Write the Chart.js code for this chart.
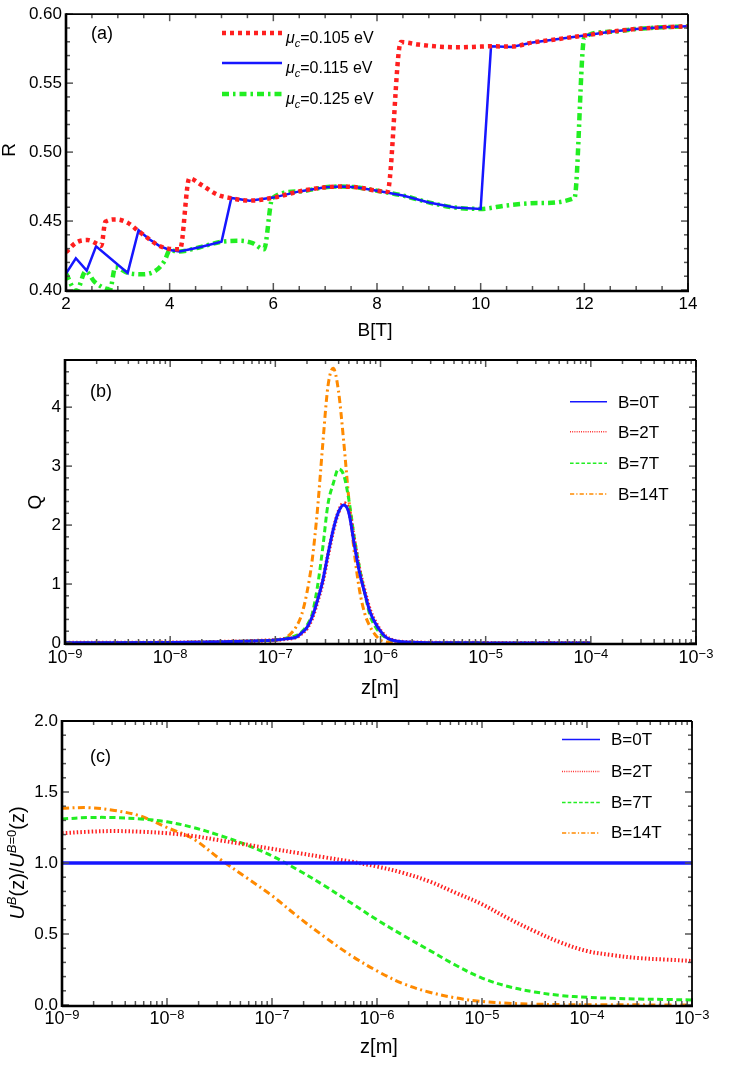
<!DOCTYPE html>
<html>
<head>
<meta charset="utf-8">
<script src="https://cdn.jsdelivr.net/npm/chart.js@4.4.1/dist/chart.umd.min.js"></script>
<style>
  body { margin: 0; background: #fff; }
  #wrap { position: relative; width: 742px; height: 1088px; }
  canvas { position: absolute; left: 0; }
</style>
</head>
<body>
<div id="wrap">
  <canvas id="ca" width="742" height="340" style="top:0px"></canvas>
  <canvas id="cb" width="742" height="360" style="top:340px"></canvas>
  <canvas id="cc" width="742" height="388" style="top:700px"></canvas>
</div>
<script>
// ---- panel (a): R against B for three chemical potentials ----
const aLabels = ['0.105', '0.115', '0.125'];
const aB105 = [2.0, 2.2, 2.42, 2.6, 2.68, 2.76, 2.97, 3.2, 3.38, 3.6, 3.8, 4.0, 4.2, 4.38, 4.6, 4.93, 5.2, 5.54, 6.0, 6.5,
               7.0, 7.3, 7.6, 8.0, 8.2, 8.46, 8.8, 9.2, 9.6, 10.0, 10.2, 10.6, 11.0, 11.5, 12.0, 12.5, 13.0, 13.5, 14.0];
const aR105 = [0.4274, 0.4345, 0.4362, 0.4335, 0.432, 0.4495, 0.4512, 0.4485, 0.4433, 0.437, 0.432, 0.4298, 0.4295, 0.481,
               0.4765, 0.469, 0.4665, 0.4648, 0.467, 0.4715, 0.4745, 0.475, 0.4745, 0.472, 0.4712, 0.5798, 0.578, 0.5765,
               0.576, 0.5765, 0.5767, 0.5765, 0.5795, 0.582, 0.5845, 0.5872, 0.5893, 0.5905, 0.5912];
const aB115 = [2.0, 2.19, 2.4, 2.58, 3.19, 3.4, 3.6, 3.8, 4.0, 4.19, 4.58, 5.0, 5.19, 5.54, 6.0, 6.5, 7.0, 7.3, 7.6, 8.0,
               8.5, 9.0, 9.5, 10.0, 10.2, 10.6, 11.0, 11.5, 12.0, 12.5, 13.0, 13.5, 14.0];
const aR115 = [0.412, 0.423, 0.414, 0.4317, 0.4124, 0.4433, 0.437, 0.432, 0.429, 0.428, 0.431, 0.435, 0.4667, 0.4648, 0.467,
               0.4715, 0.4745, 0.475, 0.4745, 0.472, 0.4685, 0.4635, 0.4598, 0.4588, 0.5767, 0.5762, 0.5795, 0.582, 0.5845,
               0.5872, 0.5893, 0.5905, 0.5912];
const aB125 = [2.0, 2.2, 2.38, 2.55, 2.85, 2.95, 3.19, 3.48, 3.74, 3.9, 4.0, 4.19, 4.58, 5.0, 5.35, 5.6, 5.82, 5.98, 6.5, 7.0,
               7.3, 7.6, 8.0, 8.5, 9.0, 9.5, 10.0, 10.5, 11.1, 11.81, 12.0, 12.5, 13.0, 13.5, 14.0];
const aR125 = [0.412, 0.399, 0.4136, 0.406, 0.4005, 0.4165, 0.4124, 0.4114, 0.4143, 0.421, 0.4286, 0.428, 0.431, 0.435, 0.4357,
               0.434, 0.4295, 0.4665, 0.4715, 0.4745, 0.475, 0.4745, 0.472, 0.4685, 0.4635, 0.4598, 0.4588, 0.4613, 0.463,
               0.4667, 0.5833, 0.5872, 0.5893, 0.5905, 0.5912];
const aXTicks = [2, 4, 6, 8, 10, 12, 14];
const aYTicks = [0.40, 0.45, 0.50, 0.55, 0.60];

// ---- panel (b): Q against z (log10 of z in metres) ----
const bLabels = ['B=0T', 'B=2T', 'B=7T', 'B=14T'];
const bLogZ = [-9, -8, -7.5, -7.2, -7.0, -6.9, -6.8, -6.75, -6.7, -6.65, -6.6, -6.55, -6.5, -6.45, -6.4, -6.35, -6.3,
               -6.25, -6.2, -6.15, -6.1, -6.05, -6.0, -5.95, -5.9, -5.8, -5.5, -5, -4];
const bQ0  = [0.003, 0.008, 0.02, 0.035, 0.05, 0.07, 0.10, 0.17, 0.26, 0.44, 0.72, 1.05, 1.5, 1.92, 2.22, 2.34, 2.2,
              1.68, 1.2, 0.85, 0.53, 0.34, 0.2, 0.1, 0.055, 0.02, 0.005, 0.002, 0.001];
const bQ2  = [0.003, 0.008, 0.02, 0.035, 0.05, 0.07, 0.10, 0.16, 0.25, 0.42, 0.70, 1.03, 1.48, 1.9, 2.22, 2.37, 2.25,
              1.74, 1.24, 0.88, 0.56, 0.36, 0.21, 0.11, 0.06, 0.02, 0.005, 0.002, 0.001];
const bQ7  = [0.003, 0.008, 0.02, 0.035, 0.05, 0.08, 0.13, 0.19, 0.3, 0.49, 0.95, 1.6, 2.35, 2.7, 2.95, 2.85, 2.42,
              1.8, 1.28, 0.85, 0.47, 0.28, 0.16, 0.09, 0.05, 0.015, 0.004, 0.002, 0.001];
const bQ14 = [0.003, 0.008, 0.02, 0.035, 0.05, 0.09, 0.28, 0.48, 0.85, 1.4, 2.25, 3.35, 4.35, 4.66, 4.28, 3.42, 2.42,
              1.55, 0.9, 0.5, 0.28, 0.14, 0.05, 0.02, 0.01, 0.005, 0.003, 0.002, 0.001];
const bYTicks = [0, 1, 2, 3, 4];

// ---- panel (c): U^B / U^(B=0) against z ----
const cLogZ = [-9, -8.75, -8.5, -8.25, -8, -7.75, -7.5, -7.25, -7, -6.75, -6.5, -6.25, -6, -5.75, -5.5, -5.25, -5,
               -4.75, -4.5, -4.25, -4, -3.75, -3.5, -3.25, -3];
const cU0  = [1, 1, 1, 1, 1, 1, 1, 1, 1, 1, 1, 1, 1, 1, 1, 1, 1, 1, 1, 1, 1, 1, 1, 1, 1];
const cU2  = [1.21, 1.22, 1.225, 1.22, 1.21, 1.19, 1.16, 1.13, 1.10, 1.07, 1.04, 1.01, 0.975, 0.93, 0.87, 0.79, 0.71,
              0.61, 0.52, 0.44, 0.38, 0.35, 0.33, 0.32, 0.31];
const cU7  = [1.31, 1.32, 1.32, 1.31, 1.29, 1.25, 1.195, 1.13, 1.05, 0.95, 0.84, 0.72, 0.6, 0.49, 0.385, 0.28, 0.19,
              0.13, 0.092, 0.067, 0.054, 0.047, 0.042, 0.039, 0.036];
const cU14 = [1.385, 1.39, 1.37, 1.33, 1.25, 1.17, 1.03, 0.9, 0.77, 0.62, 0.48, 0.35, 0.24, 0.15, 0.09, 0.05, 0.025,
              0.012, 0.006, 0.003, 0.002, 0.001, 0.001, 0, 0];
const cYTicks = [0.0, 0.5, 1.0, 1.5, 2.0];
const zExp = [-9, -8, -7, -6, -5, -4, -3];

const F = '"Liberation Sans", Arial, sans-serif';
const RED = '#ff1f1f', BLUE = '#1616ff', GREEN = '#22ee22', ORANGE = '#ff8a00';

function linMarks(min, max, minor, major) {
  const out = [];
  const n = Math.round((max - min) / minor);
  for (let i = 0; i <= n; i++) {
    const v = min + i * minor;
    out.push({ v: v, major: Math.abs(v / major - Math.round(v / major)) < 1e-6 });
  }
  return out;
}
function logMarks(exps) {
  const out = [];
  exps.forEach((e, k) => {
    const last = k === exps.length - 1 ? 1 : 9;
    for (let m = 1; m <= last; m++) out.push({ v: m * Math.pow(10, e), major: m === 1 });
  });
  return out;
}
function drawRich(ctx, pieces, x, y, center) {
  let w = 0;
  pieces.forEach(p => { ctx.font = p[1]; w += ctx.measureText(p[0]).width; });
  let cx = center ? x - w / 2 : x;
  ctx.textAlign = 'left';
  ctx.textBaseline = 'alphabetic';
  pieces.forEach(p => {
    ctx.font = p[1];
    ctx.fillText(p[0], cx, y + (p[2] || 0));
    cx += ctx.measureText(p[0]).width;
  });
}

const decoCfg = {
  ca: {
    xMarks: linMarks(2, 14, 0.5, 2), yMarks: linMarks(0.40, 0.60, 0.01, 0.05),
    legend: { x1: 222, x2: 282, tx: 286, ys: [33, 63, 94], dy: 10, lw: null,
      pieces: aLabels.map(l => [['μ', 'italic 16px ' + F], ['c', 'italic 11px ' + F, 4], ['=' + l + ' eV', '16px ' + F]]) },
    panel: ['(a)', 91, 39],
    xTitle: [[['B[T]', '19px ' + F]], 375, 336],
    yTitle: [[['R', '19px ' + F]], 15, 150]
  },
  cb: {
    xMarks: logMarks(zExp), yMarks: linMarks(0, 4.8, 0.2, 1), logLabels: 20,
    legend: { x1: 570, x2: 607, tx: 618, ys: [61.7, 91.7, 123.3, 154], dy: 6, lw: 1.5,
      pieces: bLabels.map(l => [[l, '17px ' + F]]) },
    panel: ['(b)', 90, 57],
    xTitle: [[['z[m]', '20px ' + F]], 380, 354],
    yTitle: [[['Q', '19px ' + F]], 41, 162]
  },
  cc: {
    xMarks: logMarks(zExp), yMarks: linMarks(0, 2, 0.1, 0.5), logLabels: 19,
    legend: { x1: 562, x2: 600, tx: 611, ys: [39.5, 71.5, 102.5, 133], dy: 5, lw: 1.5,
      pieces: bLabels.map(l => [[l, '17px ' + F]]) },
    panel: ['(c)', 90, 62],
    xTitle: [[['z[m]', '20px ' + F]], 379, 353],
    yTitle: [[['U', 'italic 20px ' + F], ['B', 'italic 13px ' + F, -8], ['(z)/', '20px ' + F],
              ['U', 'italic 20px ' + F], ['B', 'italic 13px ' + F, -8], ['=0', '13px ' + F, -8],
              ['(z)', '20px ' + F]], 24, 163]
  }
};

// inward frame ticks, frame, legend and free texts
const deco = {
  id: 'deco',
  afterDatasetsDraw(chart) {
    const c = decoCfg[chart.canvas.id];
    const ctx = chart.ctx, a = chart.chartArea;
    const xs = chart.scales.x, ys = chart.scales.y;
    const seg = (x1, y1, x2, y2) => { ctx.beginPath(); ctx.moveTo(x1, y1); ctx.lineTo(x2, y2); ctx.stroke(); };
    ctx.save();
    ctx.strokeStyle = '#555';
    ctx.lineWidth = 1.5;
    c.xMarks.forEach(m => {
      const x = xs.getPixelForValue(m.v), L = m.major ? 7 : 4;
      seg(x, a.bottom, x, a.bottom - L);
      seg(x, a.top, x, a.top + L);
    });
    c.yMarks.forEach(m => {
      const y = ys.getPixelForValue(m.v), L = m.major ? 7 : 4;
      seg(a.left, y, a.left + L, y);
      seg(a.right, y, a.right - L, y);
    });
    ctx.strokeStyle = '#000';
    ctx.lineWidth = 1.8;
    seg(a.left, a.top, a.right, a.top);
    seg(a.right, a.top, a.right, a.bottom);
    ctx.lineWidth = 2.6;
    seg(a.left, a.bottom + 1, a.right + 1, a.bottom + 1);
    seg(a.left, a.top - 1, a.left, a.bottom + 2);
    ctx.restore();
  },
  afterDraw(chart) {
    const c = decoCfg[chart.canvas.id];
    const ctx = chart.ctx, a = chart.chartArea, xs = chart.scales.x;
    ctx.save();
    ctx.fillStyle = '#000';
    // log axis labels 10^n
    if (c.logLabels) {
      zExp.forEach(e => {
        const x = xs.getPixelForValue(Math.pow(10, e));
        drawRich(ctx, [['10', '18px ' + F], ['\u2212' + Math.abs(e), '13px ' + F, -5]], x, a.bottom + c.logLabels, true);
      });
    }
    // legend
    const lg = c.legend;
    chart.data.datasets.forEach((ds, i) => {
      const y = lg.ys[i];
      ctx.save();
      ctx.strokeStyle = ds.borderColor;
      ctx.lineWidth = lg.lw || ds.borderWidth;
      ctx.setLineDash(lg.lw ? ds.borderDash.map(d => d * 0.6) : ds.borderDash);
      ctx.beginPath(); ctx.moveTo(lg.x1, y); ctx.lineTo(lg.x2, y); ctx.stroke();
      ctx.restore();
      drawRich(ctx, lg.pieces[i], lg.tx, y + lg.dy, false);
    });
    // panel letter
    ctx.font = '18px ' + F;
    ctx.textAlign = 'left';
    ctx.textBaseline = 'alphabetic';
    ctx.fillText(c.panel[0], c.panel[1], c.panel[2]);
    // axis titles
    drawRich(ctx, c.xTitle[0], c.xTitle[1], c.xTitle[2], true);
    ctx.translate(c.yTitle[1], c.yTitle[2]);
    ctx.rotate(-Math.PI / 2);
    drawRich(ctx, c.yTitle[0], 0, 0, true);
    ctx.restore();
  }
};

function ds(label, xs, ys, color, width, dash, mode, logx) {
  return {
    label: label,
    data: xs.map((x, i) => ({ x: logx ? Math.pow(10, x) : x, y: ys[i] })),
    borderColor: color, borderWidth: width, borderDash: dash, borderCapStyle: 'butt',
    pointRadius: 0, fill: false,
    tension: mode === 'smooth' ? 0.35 : 0,
    cubicInterpolationMode: mode === 'mono' ? 'monotone' : 'default'
  };
}

const tickFont = { family: F, size: 17 };
const noGrid = { display: false, drawTicks: false };

function linScale(min, max, ticks, fit, fmt) {
  return {
    type: 'linear', min: min, max: max, grid: noGrid, border: { display: false },
    afterBuildTicks: s => { s.ticks = ticks.map(v => ({ value: v })); },
    afterFit: fit,
    ticks: { font: tickFont, color: '#000', padding: 4, maxRotation: 0, autoSkip: false, callback: fmt }
  };
}
function logScale(fit) {
  return {
    type: 'logarithmic', min: 1e-9, max: 1e-3, grid: noGrid, border: { display: false },
    afterFit: fit, ticks: { display: false }
  };
}
function makeChart(id, datasets, x, y, pad) {
  return new Chart(document.getElementById(id), {
    type: 'line',
    data: { datasets: datasets },
    options: {
      responsive: false, animation: false, devicePixelRatio: 1,
      layout: { padding: pad },
      plugins: { legend: { display: false }, tooltip: { enabled: false } },
      scales: { x: x, y: y }
    },
    plugins: [deco]
  });
}

makeChart('ca', [
    ds('0.105', aB105, aR105, RED, 4.5, [4, 4], 'mono', false),
    ds('0.115', aB115, aR115, BLUE, 2.5, [], 'straight', false),
    ds('0.125', aB125, aR125, GREEN, 4.5, [7, 4, 2.5, 4], 'mono', false)
  ],
  linScale(2, 14, aXTicks, s => { s.height = 50; }, v => String(v)),
  linScale(0.40, 0.60, aYTicks, s => { s.width = 66; }, v => v.toFixed(2)),
  { left: 0, top: 10, right: 54, bottom: 0 });

makeChart('cb', [
    ds(bLabels[0], bLogZ, bQ0, BLUE, 3, [], 'mono', true),
    ds(bLabels[1], bLogZ, bQ2, RED, 4, [1.5, 2.2], 'mono', true),
    ds(bLabels[2], bLogZ, bQ7, GREEN, 3, [6, 3.5], 'mono', true),
    ds(bLabels[3], bLogZ, bQ14, ORANGE, 3, [7, 3.5, 2, 3.5], 'mono', true)
  ],
  logScale(s => { s.height = 57; }),
  linScale(0, 4.8, bYTicks, s => { s.width = 65; }, v => String(v)),
  { left: 0, top: 20, right: 46, bottom: 0 });

makeChart('cc', [
    ds(bLabels[0], cLogZ, cU0, BLUE, 3.5, [], 'straight', true),
    ds(bLabels[1], cLogZ, cU2, RED, 4, [1.5, 2.2], 'smooth', true),
    ds(bLabels[2], cLogZ, cU7, GREEN, 3, [6, 3.5], 'smooth', true),
    ds(bLabels[3], cLogZ, cU14, ORANGE, 3, [7, 3.5, 2, 3.5], 'smooth', true)
  ],
  logScale(s => { s.height = 83; }),
  linScale(0, 2, cYTicks, s => { s.width = 62; }, v => v.toFixed(1)),
  { left: 0, top: 21, right: 50, bottom: 0 });
</script>
</body>
</html>
